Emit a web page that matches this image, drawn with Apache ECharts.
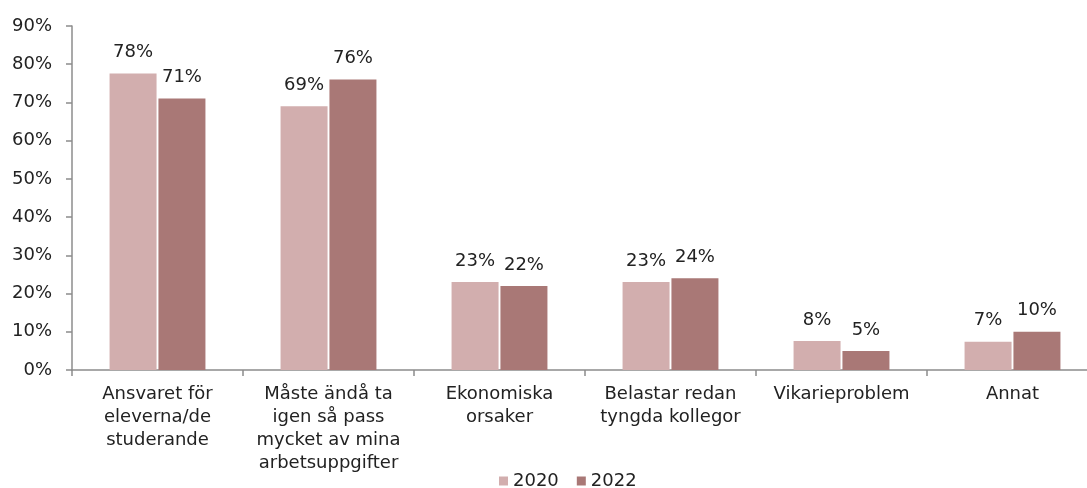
<!DOCTYPE html>
<html>
<head>
<meta charset="utf-8">
<script src="https://cdn.jsdelivr.net/npm/echarts@6/dist/echarts.min.js"></script>
<style>
  html, body { margin: 0; padding: 0; background: #fff; }
  #chart { width: 1087px; height: 488px; }
</style>
</head>
<body>
<div id="chart"></div>
<script>
var categories = [
  'Ansvaret för\neleverna/de\nstuderande',
  'Måste ändå ta\nigen så pass\nmycket av mina\narbetsuppgifter',
  'Ekonomiska\norsaker',
  'Belastar redan\ntyngda kollegor',
  'Vikarieproblem',
  'Annat'
];
var series2020 = [77.6, 69, 23, 23, 7.6, 7.4];
var series2022 = [71, 76, 22, 24, 5, 10];
var yTicks = [0, 90, 10]; // min, max, interval

var font = 'DejaVu Sans, Verdana, sans-serif';
var fs = 18;
var chart = echarts.init(document.getElementById('chart'));

function pct(p) {
  return Math.round(p.value) + '%';
}

var option = {
  animation: false,
  color: ['#d2aeae', '#a97876'],
  textStyle: { fontFamily: font },
  legend: {
    bottom: -7,
    left: 494,
    itemWidth: 9,
    itemHeight: 9,
    itemGap: 18,
    icon: 'rect',
    textStyle: { fontSize: fs, color: '#222', fontFamily: font },
    data: ['2020', '2022']
  },
  grid: {
    left: 72,
    top: 26,
    right: -11,
    height: 344,
    outerBoundsMode: 'none'
  },
  xAxis: {
    type: 'category',
    data: categories,
    axisLine: { lineStyle: { color: '#8c8c8c', width: 1.5 } },
    axisTick: { show: true, length: 6, lineStyle: { color: '#8c8c8c', width: 1.5 } },
    axisLabel: {
      interval: 0,
      margin: 13,
      fontSize: fs,
      lineHeight: 23,
      color: '#222',
      fontFamily: font
    }
  },
  yAxis: {
    type: 'value',
    min: yTicks[0],
    max: yTicks[1],
    interval: yTicks[2],
    splitLine: { show: false },
    axisLine: { show: true, lineStyle: { color: '#8c8c8c', width: 1.5 } },
    axisTick: { show: true, length: 6, lineStyle: { color: '#8c8c8c', width: 1.5 } },
    axisLabel: {
      margin: 20,
      fontSize: fs,
      color: '#222',
      fontFamily: font,
      formatter: '{value}%'
    }
  },
  series: [
    {
      name: '2020',
      type: 'bar',
      data: series2020,
      barWidth: 47,
      barGap: '4%',
      label: { show: true, position: 'top', distance: 12, fontSize: fs, color: '#222', fontFamily: font, formatter: pct }
    },
    {
      name: '2022',
      type: 'bar',
      data: series2022,
      barWidth: 47,
      label: { show: true, position: 'top', distance: 12, fontSize: fs, color: '#222', fontFamily: font, formatter: pct }
    }
  ]
};

chart.setOption(option);
</script>
</body>
</html>
